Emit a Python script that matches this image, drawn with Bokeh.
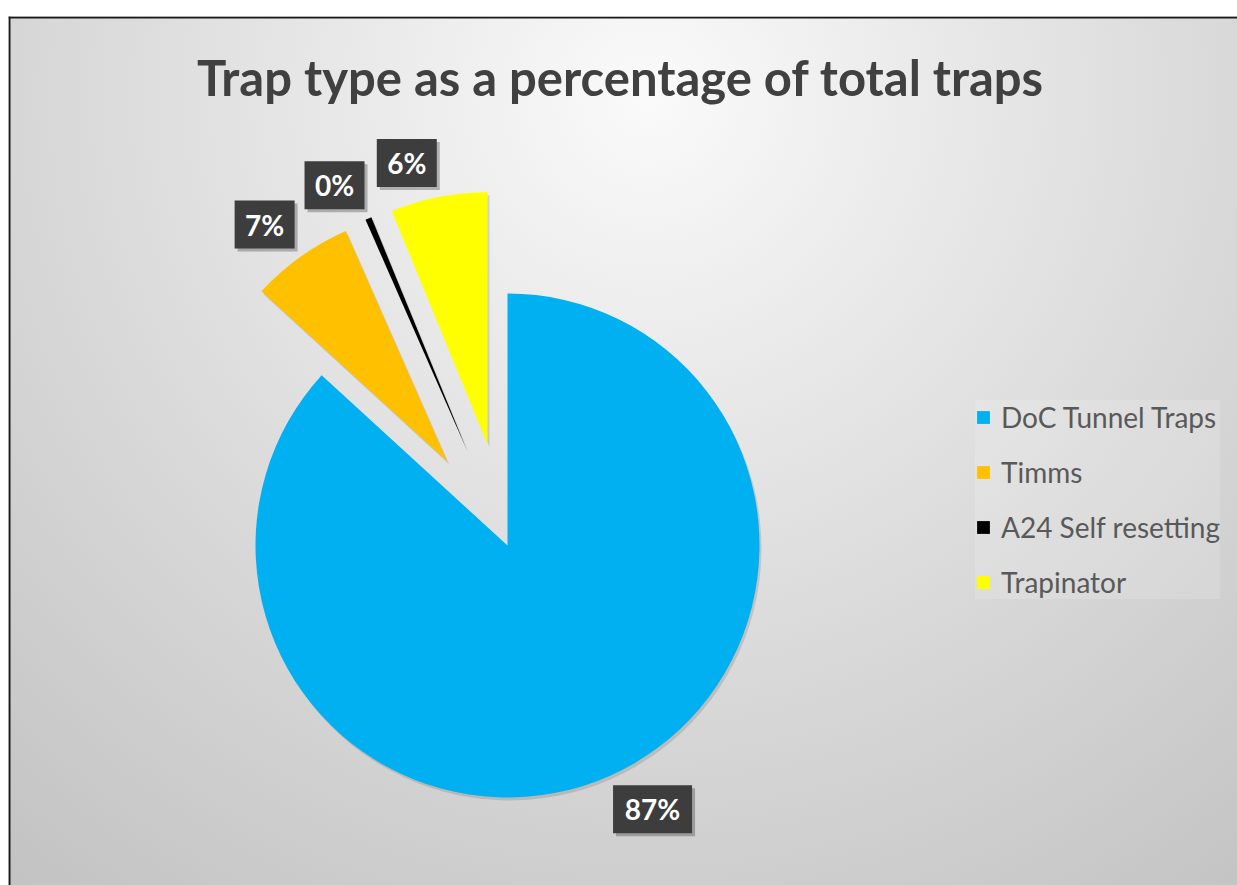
import math
from bokeh.plotting import figure
from bokeh.models import ColumnDataSource, Range1d, Span, Legend, LegendItem
from bokeh.core.properties import value
from bokeh.embed import file_html
from bokeh.resources import INLINE

# ---------------- data ----------------
categories = ["DoC Tunnel Traps", "Timms", "A24 Self resetting", "Trapinator"]
shares = [86.8, 6.6, 0.4, 6.2]          # percent of total traps
label_texts = ["87%", "7%", "0%", "6%"]
title_text = "Trap type as a percentage of total traps"

# ---------------- style ----------------
colors = ["#00B0F0", "#FFC000", "#000000", "#FFFF00"]
explode = [0.0, 0.41, 0.41, 0.41]
FONT = "Lato"

PAGE_W, PAGE_H = 1237, 885
LEFT_GAP, TOP_GAP = 8, 16               # white space left of / above the chart
W, H = PAGE_W - LEFT_GAP, PAGE_H - TOP_GAP
Y_LO, Y_HI = 0, PAGE_H - TOP_GAP        # data y = PAGE_H - pixel row
CX, CY, R = 507, PAGE_H - 545, 252      # pie centre and radius (data units = px)

p = figure(width=W, height=H, x_range=Range1d(LEFT_GAP, PAGE_W), y_range=Range1d(Y_LO, Y_HI),
           x_axis_type=None, y_axis_type=None, output_backend="svg",
           toolbar_location=None, min_border=0, margin=(TOP_GAP, 0, 0, LEFT_GAP))
p.grid.visible = False
p.outline_line_color = None
p.background_fill_alpha = 0
p.border_fill_alpha = 0
p.styles = {"background": "radial-gradient(circle at 640px 80px, #fafafa 0px, #ebebeb 260px, "
                          "#d8d8d8 600px, #c3c3c3 1000px)"}

# ---------------- geometry from the data ----------------
total = sum(shares)
xs, ys, starts, ends, mids = [], [], [], [], []
cum = 0.0
for s, e in zip(shares, explode):
    a0, a1 = cum / total, (cum + s) / total
    cum += s
    m = (a0 + a1) * math.pi          # clockwise from 12 o'clock, radians
    mids.append(m)
    xs.append(CX + e * R * math.sin(m))
    ys.append(CY + e * R * math.cos(m))
    starts.append(math.pi / 2 - 2 * math.pi * a0)
    ends.append(math.pi / 2 - 2 * math.pi * a1)

src = ColumnDataSource(dict(x=xs, y=ys, start=starts, end=ends, color=colors, name=categories))
shadow = ColumnDataSource(dict(x=[v + 2 for v in xs], y=[v - 3 for v in ys], start=starts, end=ends))
p.wedge(x="x", y="y", radius=R, start_angle="start", end_angle="end", direction="clock",
        source=shadow, fill_color="black", fill_alpha=0.12, line_color=None)
pie = p.wedge(x="x", y="y", radius=R, start_angle="start", end_angle="end", direction="clock",
              source=src, fill_color="color", line_color=None)

# data labels (outside end, box corner nearest the pie)
BOX_H = 48
lx, ly, lw = [], [], []
for x0, y0, m, t in zip(xs, ys, mids, label_texts):
    w = 22 + 19 * len(t)
    ax = x0 + (R + 10) * math.sin(m)
    ay = y0 + (R + 10) * math.cos(m)
    sx = 1 if math.sin(m) >= 0 else -1
    sy = 1 if math.cos(m) >= 0 else -1
    lx.append(ax + sx * w / 2)
    ly.append(ay + sy * BOX_H / 2)
    lw.append(w)
lab = ColumnDataSource(dict(x=lx, y=ly, w=lw, t=label_texts,
                            sx=[v + 3 for v in lx], sy=[v - 3 for v in ly]))
p.rect(x="sx", y="sy", width="w", height=BOX_H, source=lab, fill_color="black",
       fill_alpha=0.25, line_color=None)
p.rect(x="x", y="y", width="w", height=BOX_H, source=lab, fill_color="#3d3d3d",
       line_color=None)
p.text(x="x", y="y", text="t", source=lab, text_color="white", text_font=value(FONT),
       text_font_style="bold", text_font_size="28px", text_align="center",
       text_baseline="middle")

# title
p.text(x=[620], y=[PAGE_H - 76], text=[title_text], text_color="#404040",
       text_font=value(FONT), text_font_style="bold", text_font_size="49px",
       text_align="center", text_baseline="alphabetic")

# legend
legend = Legend(items=[LegendItem(label=c, renderers=[pie], index=i) for i, c in enumerate(categories)],
                location=(975 - LEFT_GAP, PAGE_H - 599), orientation="vertical",
                glyph_width=16, glyph_height=16, label_standoff=10,
                label_height=30, spacing=21, padding=13, margin=0,
                label_text_font=FONT, label_text_font_size="28px", label_text_color="#595959",
                background_fill_color="white", background_fill_alpha=0.15,
                border_line_color=None)
p.add_layout(legend)

# chart frame edges (left and top visible)
p.add_layout(Span(location=LEFT_GAP + 1, dimension="height", line_color="#1a1a1a", line_width=2))
p.add_layout(Span(location=Y_HI - 1, dimension="width", line_color="#1a1a1a", line_width=2))

open("out.html", "w").write(file_html(p, INLINE))
